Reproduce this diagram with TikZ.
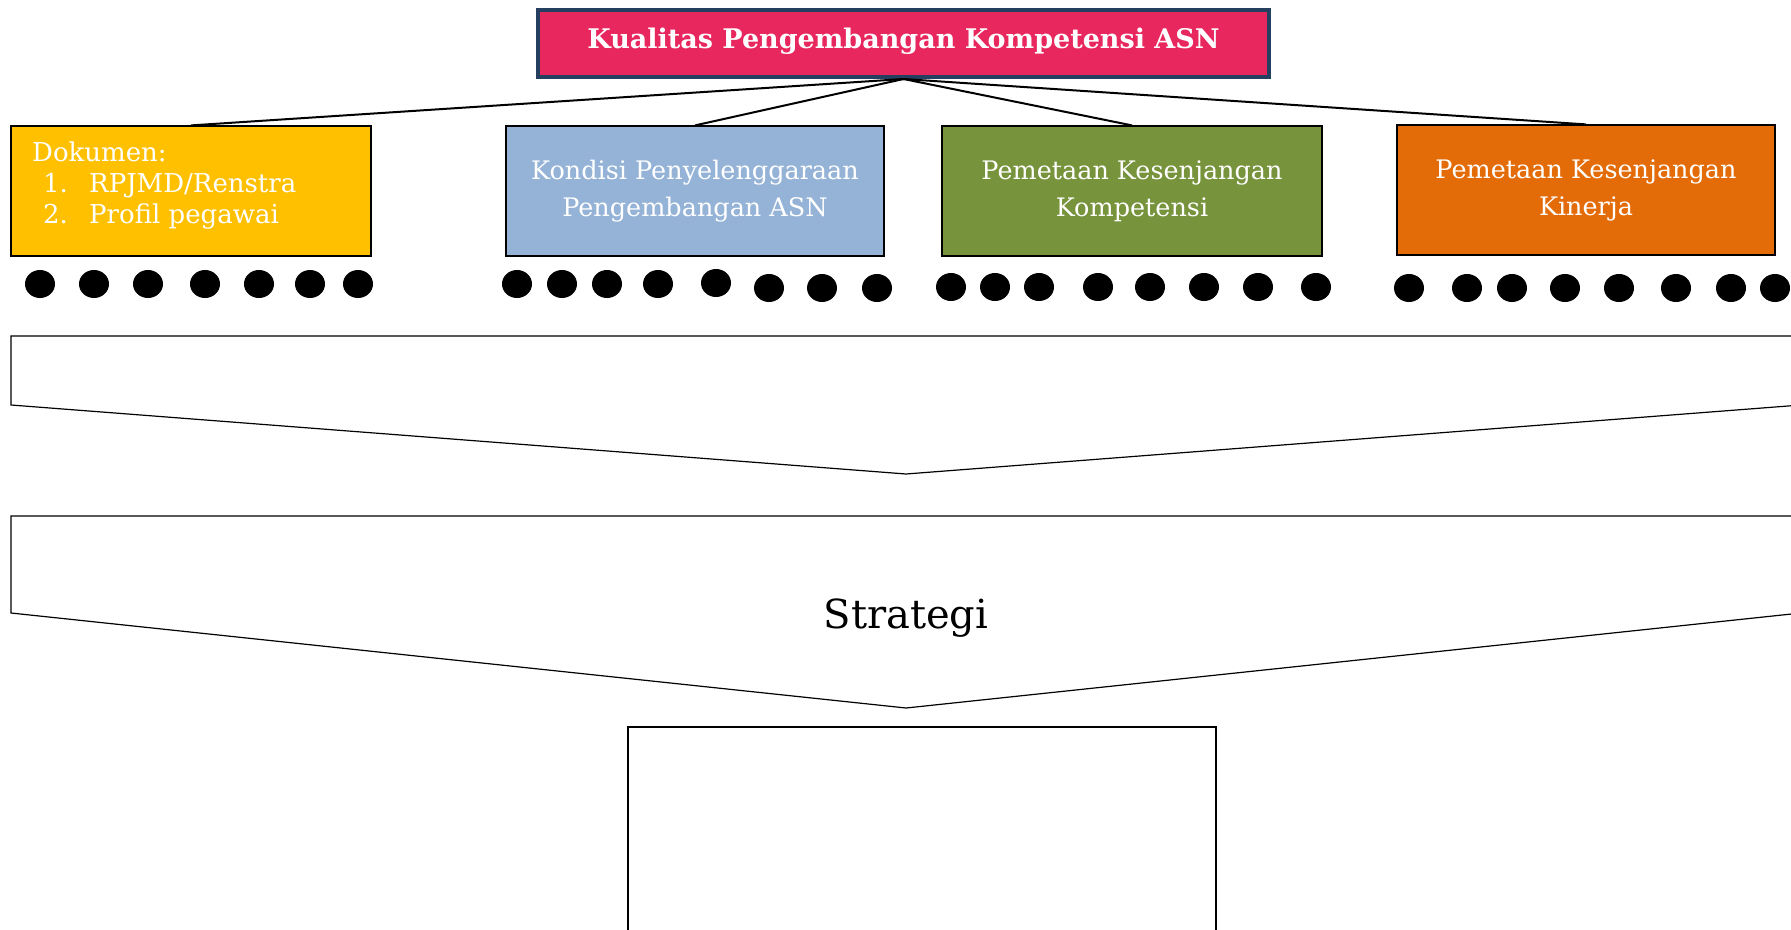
\documentclass[tikz,border=0pt]{standalone}
\usepackage{fontspec}
\setmainfont{DejaVu Serif}
\definecolor{titlefill}{HTML}{E8275F}
\definecolor{titleborder}{HTML}{243F60}
\definecolor{ybox}{HTML}{FFC000}
\definecolor{bbox}{HTML}{95B3D7}
\definecolor{gbox}{HTML}{77933C}
\definecolor{obox}{HTML}{E36C09}
\begin{document}
\begin{tikzpicture}[x=1pt,y=-1pt,
  box/.style={draw=black, line width=1.2pt, minimum height=130pt, inner sep=0pt,
    text=white, align=center, font=\fontsize{25.5}{37}\selectfont},
  doctext/.style={anchor=base west, inner sep=0pt, text=white, font=\fontsize{26}{30}\selectfont},
  conn/.style={draw=black, line width=2pt},
  chev/.style={draw=black, line width=1.2pt}]
\useasboundingbox (0,0) rectangle (1791,929);
\clip (0,0) rectangle (1791,929);
\fill[white] (0,0) rectangle (1791,929);

% title
\node[draw=titleborder, line width=4pt, fill=titlefill, minimum width=731pt,
  minimum height=67pt, inner sep=0pt] (title) at (903.5,43.5) {};
\node[anchor=base, inner sep=0pt, text=white, font=\bfseries\fontsize{27}{30}\selectfont]
  (titletext) at (903.5,48) {Kualitas Pengembangan Kompetensi ASN};

% boxes
\node[box, fill=ybox, minimum width=360pt] (doc) at (191,191) {};
\node[box, fill=bbox, minimum width=378pt] (kondisi) at (695,191) {Kondisi Penyelenggaraan\\Pengembangan ASN};
\node[box, fill=gbox, minimum width=380pt] (komp) at (1132,191) {Pemetaan Kesenjangan\\Kompetensi};
\node[box, fill=obox, minimum width=378pt] (kinerja) at (1586,190) {Pemetaan Kesenjangan\\Kinerja};

\node[doctext] (dokumen) at (32,161) {Dokumen:};
\node[doctext] (n1) at (43,192) {1.};
\node[doctext] (rpjmd) at (89,192) {RPJMD/Renstra};
\node[doctext] (n2) at (43,223) {2.};
\node[doctext] (profil) at (89,223) {Profil pegawai};

% connectors
\draw[conn] (title.south) -- (doc.north);
\draw[conn] (title.south) -- (kondisi.north);
\draw[conn] (title.south) -- (komp.north);
\draw[conn] (title.south) -- (kinerja.north);

% dots
\foreach \x/\y in {40/284, 94/284, 148/284, 205/284, 259/284, 310/284, 358/284,
  517/284, 562/284, 607/284, 658/284, 716/283, 769/288, 822/288, 877/288,
  951/287, 995/287, 1039/287, 1098/287, 1150/287, 1204/287, 1258/287, 1316/287,
  1409/288, 1467/288, 1512/288, 1565/288, 1619/288, 1676/288, 1731/288, 1775/288}
  \fill[black] (\x,\y) ellipse [x radius=15pt, y radius=14pt];

% chevrons
\draw[chev] (11,336) -- (1801,336) -- (1801,405) -- (906,474) -- (11,405) -- cycle;
\draw[chev] (11,516) -- (1801,516) -- (1801,613) -- (906,708) -- (11,613) -- cycle;
\node[anchor=base, inner sep=0pt, font=\fontsize{40}{48}\selectfont] (strategi) at (906,628) {Strategi};

% bottom box
\draw[chev] (628,727) rectangle (1216,960);
\end{tikzpicture}
\end{document}
